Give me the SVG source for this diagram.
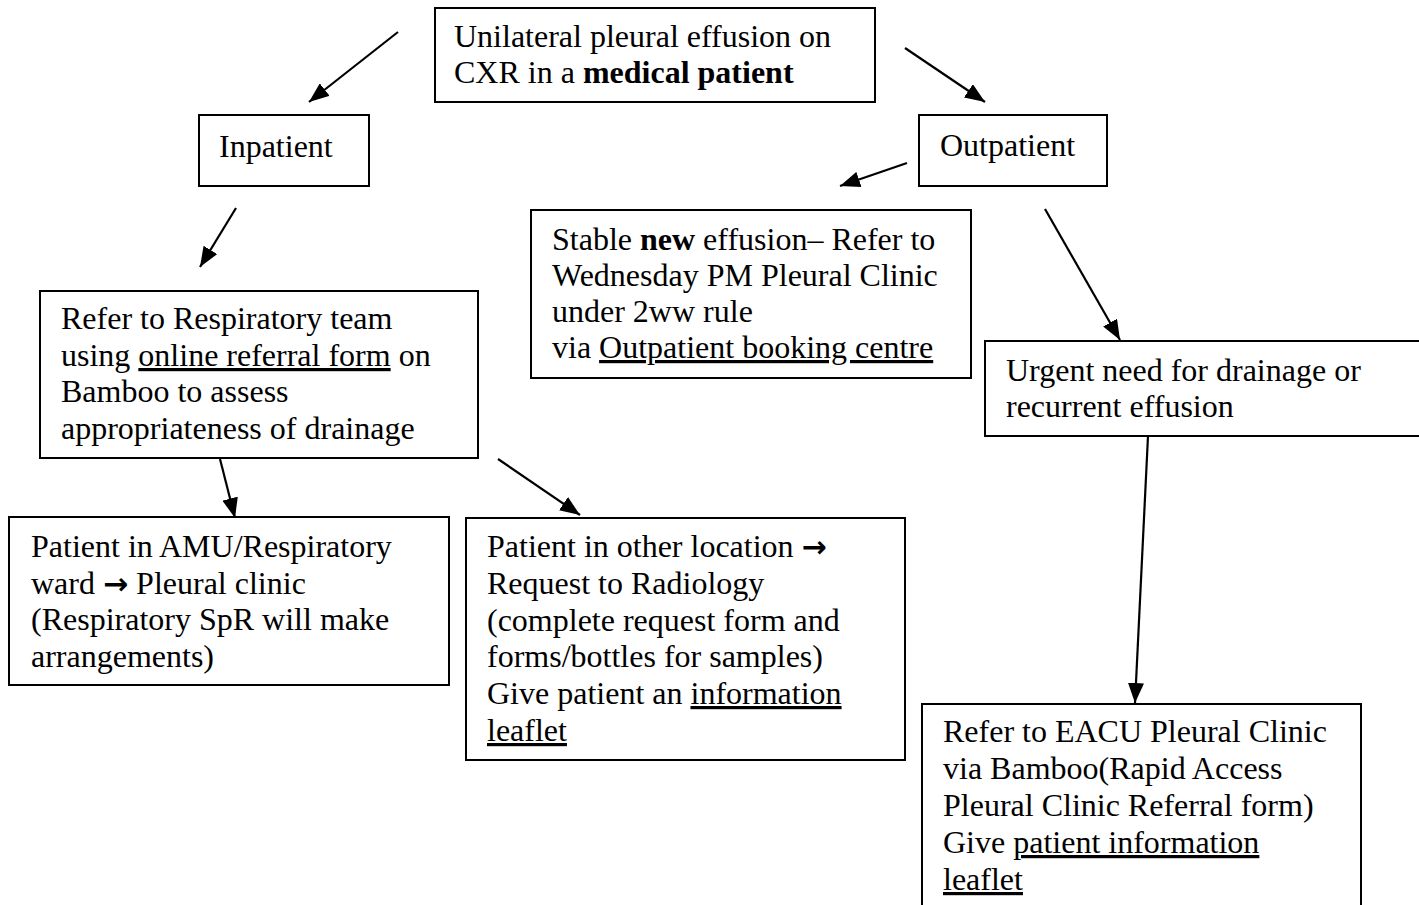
<svg xmlns="http://www.w3.org/2000/svg" width="1419" height="905" viewBox="0 0 1419 905">
<defs>
<marker id="ah" markerUnits="userSpaceOnUse" markerWidth="20" markerHeight="16" refX="20" refY="8" orient="auto">
<path d="M0,0 L20,8 L0,16 z" fill="#000"/>
</marker>
<style>
.box{fill:#fff;stroke:#000;stroke-width:2}
.t{font-family:"Liberation Serif","Times New Roman",serif;font-size:32px;fill:#000}
.b{font-weight:bold}
.u{text-decoration:underline}
.arr{font-family:"DejaVu Sans",sans-serif;font-weight:bold;font-size:30px}
.c{stroke:#000;stroke-width:2.2;fill:none;marker-end:url(#ah)}
</style>
</defs>
<rect width="1419" height="905" fill="#fff"/>
<g id="connectors">
<line class="c" x1="398" y1="32" x2="309" y2="102"/>
<line class="c" x1="905" y1="48" x2="985" y2="102"/>
<line class="c" x1="907" y1="163" x2="840" y2="186"/>
<line class="c" x1="236" y1="208" x2="200" y2="267"/>
<line class="c" x1="1045" y1="209" x2="1120" y2="340"/>
<line class="c" x1="220" y1="459" x2="235" y2="518"/>
<line class="c" x1="498" y1="459" x2="580" y2="515"/>
<line class="c" x1="1148" y1="436" x2="1135" y2="703"/>
</g>
<g id="n-start">
<rect class="box" x="435" y="8" width="440" height="94"/>
<text class="t" x="454" y="47">Unilateral pleural effusion on</text>
<text class="t" x="454" y="83">CXR in a <tspan class="b">medical patient</tspan></text>
</g>
<g id="n-inpatient">
<rect class="box" x="199" y="115" width="170" height="71"/>
<text class="t" x="219" y="157">Inpatient</text>
</g>
<g id="n-outpatient">
<rect class="box" x="919" y="115" width="188" height="71"/>
<text class="t" x="940" y="156">Outpatient</text>
</g>
<g id="n-stable">
<rect class="box" x="531" y="210" width="440" height="168"/>
<text class="t" x="552" y="250">Stable <tspan class="b">new</tspan> effusion– Refer to</text>
<text class="t" x="552" y="286">Wednesday PM Pleural Clinic</text>
<text class="t" x="552" y="322">under 2ww rule</text>
<text class="t" x="552" y="358">via <tspan class="u">Outpatient booking centre</tspan></text>
</g>
<g id="n-refer">
<rect class="box" x="40" y="291" width="438" height="167"/>
<text class="t" x="61" y="329">Refer to Respiratory team</text>
<text class="t" x="61" y="366">using <tspan class="u">online referral form</tspan> on</text>
<text class="t" x="61" y="402">Bamboo to assess</text>
<text class="t" x="61" y="439">appropriateness of drainage</text>
</g>
<g id="n-urgent">
<rect class="box" x="985" y="341" width="440" height="95"/>
<text class="t" x="1006" y="381">Urgent need for drainage or</text>
<text class="t" x="1006" y="417">recurrent effusion</text>
</g>
<g id="n-amu">
<rect class="box" x="9" y="517" width="440" height="168"/>
<text class="t" x="31" y="557">Patient in AMU/Respiratory</text>
<text class="t" x="31" y="594">ward <tspan class="arr">→</tspan> Pleural clinic</text>
<text class="t" x="31" y="630">(Respiratory SpR will make</text>
<text class="t" x="31" y="667">arrangements)</text>
</g>
<g id="n-other">
<rect class="box" x="466" y="518" width="439" height="242"/>
<text class="t" x="487" y="557">Patient in other location <tspan class="arr">→</tspan></text>
<text class="t" x="487" y="594">Request to Radiology</text>
<text class="t" x="487" y="631">(complete request form and</text>
<text class="t" x="487" y="667">forms/bottles for samples)</text>
<text class="t" x="487" y="704">Give patient an <tspan class="u">information</tspan></text>
<text class="t" x="487" y="741"><tspan class="u">leaflet</tspan></text>
</g>
<g id="n-eacu">
<rect class="box" x="922" y="704" width="439" height="230"/>
<text class="t" x="943" y="742">Refer to EACU Pleural Clinic</text>
<text class="t" x="943" y="779">via Bamboo(Rapid Access</text>
<text class="t" x="943" y="816">Pleural Clinic Referral form)</text>
<text class="t" x="943" y="853">Give <tspan class="u">patient information</tspan></text>
<text class="t" x="943" y="890"><tspan class="u">leaflet</tspan></text>
</g>
</svg>
